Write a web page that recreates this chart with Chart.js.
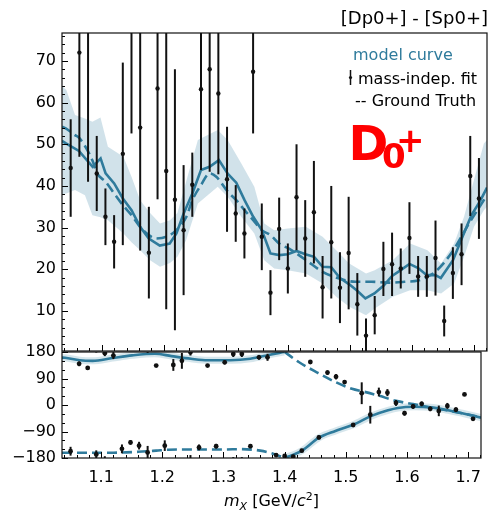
<!DOCTYPE html>
<html><head><meta charset="utf-8">
<script src="https://cdn.jsdelivr.net/npm/chart.js@4.4.1/dist/chart.umd.min.js"></script>
<style>
html,body{margin:0;padding:0;background:#fff;}
#wrap{position:relative;width:491px;height:511px;overflow:hidden;background:#fff;}
#wrap canvas{position:absolute;left:0;top:0;}
</style></head><body>
<div id="wrap"><canvas id="topPanel" width="491" height="511"></canvas><canvas id="phasePanel" width="491" height="511"></canvas></div>
<script>
// ---------------- data ----------------
const xTicks = [1.1, 1.2, 1.3, 1.4, 1.5, 1.6, 1.7];
const intensityTicks = [10, 20, 30, 40, 50, 60, 70];
const phaseTicks = [-180, -90, 0, 90, 180];

const binMass = [1.050,1.064,1.078,1.092,1.106,1.120,1.134,1.148,1.162,1.176,1.190,1.204,1.218,1.232,1.246,1.260,1.274,1.288,1.302,1.316,1.330,1.344,1.358,1.372,1.386,1.400,1.414,1.428,1.442,1.456,1.470,1.484,1.498,1.512,1.526,1.540,1.554,1.568,1.582,1.596,1.610,1.624,1.638,1.652,1.666,1.680,1.694,1.708];

const fitIntensity = [44.3,72,82,43,32.6,26.6,47.7,80,54,24,63.4,43.6,36.7,29.4,40.3,63.2,68,62.2,41.6,33.4,28.6,67.4,27.8,14.4,29.7,20.2,37.3,27.4,33.7,15.7,26.5,15.6,23.9,11.6,4.1,9.0,20.1,21.2,20.2,27.5,18.3,18.3,22.7,7.6,19.1,23.6,42.4,37.0];
const fitIntensityErr = [11.7,25,41,9,6.8,6.4,21.9,27.4,29.5,11,26.6,33.2,31.3,15.6,7.7,19.4,24.6,19.4,12.6,6.8,6,14.8,8,5.4,7.5,6,12.7,9.2,12.3,7.5,13.5,8.5,13.5,7.5,4.1,4.6,6.5,7.6,4.8,8.6,4.9,4.9,9,3.7,6.2,7.4,9.6,9.7];

const fitPhase = [-157,140,126,-168,176,168,-149,-127,-138,-161,134,-138,136,150,179,-144,134,-140,145,173,173,-140,162,162,-170,-173,-175,-155,146,-110,110,96,78,-68,40,-33,44,42,7,-28,-5,4,-13,-20,-3,-16,36,-47];
const fitPhaseErr = [15,8,5,14,10,12,15,8,13,22,3,18,20,27,11,10,5,8,7,10,10,7,8,12,6,5,6,6,6,7,8,9,6,6,37,30,15,12,10,8,8,8,8,18,10,8,5,5];

const modelMass = [1.036,1.0424,1.0633,1.0854,1.0982,1.1063,1.1201,1.1341,1.1481,1.1619,1.1759,1.1936,1.2096,1.2204,1.2321,1.2461,1.2600,1.2739,1.2889,1.3034,1.3169,1.3302,1.3442,1.3580,1.3720,1.3865,1.3998,1.4138,1.4283,1.4423,1.4560,1.4700,1.4840,1.4990,1.5123,1.5250,1.5395,1.5545,1.5680,1.5820,1.5960,1.6100,1.6240,1.6380,1.6465,1.6662,1.6820,1.6960,1.7100,1.7210];
const modelIntensity = [50.8,50.2,48.4,44.6,46.6,43.0,40.6,37.0,34.2,30.2,27.4,25.7,26.2,28.6,33.4,38.2,43.8,44.6,46.2,42.9,40.8,36.6,32.6,29.4,23.8,23.4,23.6,24.4,23.6,23.0,20.6,20.5,17.9,16.4,14.8,13.0,14.2,16.1,18.4,19.8,21.3,20.3,18.6,18.6,17.9,22.2,28.0,33.0,36.4,39.6];

const gtMass = [1.036,1.042,1.057,1.0633,1.0854,1.0918,1.1063,1.1201,1.1341,1.1481,1.1619,1.1759,1.1882,1.2043,1.2204,1.2365,1.2461,1.2600,1.2739,1.2847,1.3034,1.3169,1.3302,1.3442,1.3580,1.3720,1.3865,1.4026,1.4294,1.4560,1.4829,1.5090,1.5350,1.5620,1.5880,1.6100,1.6244,1.6384,1.6651,1.6920,1.7210];
const gtIntensity = [54.2,53.8,52.2,51.6,46.0,43.2,41.0,38.2,35.4,33.0,30.2,28.2,27.4,27.8,29.4,32.6,36.6,40.2,43.0,42.2,38.6,36.6,34.2,31.8,29.4,28.2,26.1,24.9,22.2,19.4,17.8,17.0,17.0,16.8,17.0,17.3,18.2,19.5,24.2,31.0,37.8];

const bandMass = [1.036,1.043,1.057,1.073,1.085,1.098,1.110,1.135,1.148,1.162,1.178,1.194,1.210,1.222,1.236,1.255,1.287,1.303,1.325,1.346,1.362,1.378,1.400,1.429,1.456,1.478,1.499,1.526,1.540,1.569,1.597,1.625,1.647,1.668,1.684,1.700,1.716,1.721];
const bandLow  = [38,38.2,39,37.8,33,32.5,31.8,28.6,26.5,24.6,22.2,20.6,21.5,23,27,35.8,39.8,37.4,32.6,28.6,22.2,20.2,19.8,19.0,16.6,13.4,11.0,9.0,10.6,13.4,15.0,15.0,14.2,16.6,23.0,30.2,34.2,35];
const bandHigh = [64,63,57,56.2,55.4,56.4,49.4,47,42.2,36.6,33.5,31,31.8,33.5,41,51,53.4,51,45.4,39.8,31,29.4,29.8,30.2,27.8,24.6,21.4,19.0,19.8,22.2,26.2,24.6,21.4,26.2,32.6,41.4,50.2,51];

const modelPhaseMassUpper = [1.036,1.041,1.065,1.086,1.1185,1.1506,1.188,1.215,1.247,1.274,1.311,1.344,1.376,1.399];
const modelPhaseUpper     = [161,160.5,152,150,159.5,168.5,174,166,157,152,152,157,171,180];
const modelPhaseMassLower = [1.399,1.413,1.429,1.456,1.483,1.512,1.542,1.569,1.585,1.612,1.638,1.665,1.692,1.721];
const modelPhaseLower     = [-180,-170,-154,-111,-88,-67,-37,-18,-10,-6,-8,-17,-29,-43];
const gtPhaseMassLower = [1.036,1.08,1.12,1.16,1.19,1.21,1.25,1.30,1.33,1.36,1.38,1.40];
const gtPhaseLower     = [-162,-162,-162,-159,-155,-152,-151,-151,-150,-155,-165,-180];
const gtPhaseMassUpper = [1.40,1.423,1.4525,1.484,1.51,1.53,1.555,1.58,1.61,1.635,1.665,1.692,1.721];
const gtPhaseUpper     = [180,146,111,77,55,45,31,15,3,-7,-18,-29,-42];

// ---------------- helpers ----------------
const X_MIN = 1.036, X_MAX = 1.721;
const TEAL = '#2f7b9c';
const FONT = '"DejaVu Sans", "Liberation Sans", sans-serif';
const toXY = (xs, ys) => xs.map((x, i) => ({x: x, y: ys[i]}));
const setTicks = list => scale => { scale.ticks = list.map(v => ({value: v})); };
const minus = v => (v < 0 ? '\u2212' + Math.abs(v) : String(v));

function minorValues(min, max, step, majors) {
  const out = [];
  for (let k = Math.ceil(min / step - 1e-9); k * step <= max + 1e-9; k++) {
    const v = +(k * step).toFixed(6);
    if (!majors.some(m => Math.abs(m - v) < 1e-6)) out.push(v);
  }
  return out;
}

// error bars drawn through the chart's scales, right before the point dataset
const errorBarPlugin = {
  id: 'errorBars',
  beforeDatasetDraw(chart, args) {
    const ds = chart.data.datasets[args.index];
    if (!ds.errors) return;
    const {ctx, chartArea: a} = chart;
    const xs = chart.scales.x, ys = chart.scales.y;
    ctx.save();
    ctx.beginPath();
    ctx.rect(a.left, a.top, a.right - a.left, a.bottom - a.top);
    ctx.clip();
    ctx.strokeStyle = '#111';
    ctx.lineWidth = 2;
    ds.data.forEach((p, i) => {
      const e = ds.errors[i];
      (ds.wrapShifts || [0]).forEach(s => {
        const px = xs.getPixelForValue(p.x);
        ctx.beginPath();
        ctx.moveTo(px, ys.getPixelForValue(p.y + s - e));
        ctx.lineTo(px, ys.getPixelForValue(p.y + s + e));
        ctx.stroke();
      });
    });
    ctx.restore();
  }
};

function frameTicks(chart, yMajors, yMinorStep, xMinorStep) {
  const {ctx, chartArea: a} = chart;
  const xs = chart.scales.x, ys = chart.scales.y;
  ctx.save();
  ctx.strokeStyle = '#000';
  ctx.lineWidth = 1;
  const tickX = (vals, len) => vals.forEach(v => {
    const px = Math.round(xs.getPixelForValue(v)) + 0.5;
    ctx.beginPath(); ctx.moveTo(px, a.bottom); ctx.lineTo(px, a.bottom - len); ctx.stroke();
  });
  const tickY = (vals, len) => vals.forEach(v => {
    const py = Math.round(ys.getPixelForValue(v)) + 0.5;
    ctx.beginPath(); ctx.moveTo(a.left, py); ctx.lineTo(a.left + len, py); ctx.stroke();
  });
  tickX(minorValues(xs.min, xs.max, xMinorStep, xTicks), 3);
  tickX(xTicks, 6);
  tickY(minorValues(ys.min, ys.max, yMinorStep, yMajors), 3);
  tickY(yMajors, 6);
  ctx.lineWidth = 1.2;
  ctx.strokeStyle = '#111';
  ctx.strokeRect(a.left, a.top, a.right - a.left, a.bottom - a.top);
  ctx.restore();
}

const tickFont = {family: FONT, size: 16};

// ---------------- top panel: intensity ----------------
new Chart(document.getElementById('topPanel'), {
  type: 'line',
  data: {datasets: [
    {label: 'mass-indep. fit', data: toXY(binMass, fitIntensity), errors: fitIntensityErr,
     showLine: false, pointRadius: 2.2, pointBackgroundColor: '#111', pointBorderWidth: 0, order: 0},
    {label: 'model curve', data: toXY(modelMass, modelIntensity), borderColor: TEAL, borderWidth: 2.6,
     pointRadius: 0, tension: 0, fill: false, order: 1},
    {label: 'Ground Truth', data: toXY(gtMass, gtIntensity), borderColor: TEAL, borderWidth: 2.6,
     borderDash: [10, 5], pointRadius: 0, tension: 0.35, cubicInterpolationMode: 'monotone', fill: false, order: 2},
    {label: 'band low', data: toXY(bandMass, bandLow), borderWidth: 0, borderColor: 'rgba(0,0,0,0)',
     pointRadius: 0, tension: 0, fill: false, order: 4},
    {label: 'band high', data: toXY(bandMass, bandHigh), borderWidth: 0, borderColor: 'rgba(0,0,0,0)',
     pointRadius: 0, tension: 0, fill: '-1', backgroundColor: 'rgba(70,140,170,0.25)', order: 3}
  ]},
  options: {
    responsive: false, animation: false, devicePixelRatio: 1,
    layout: {padding: {left: 0, right: 3, top: 33, bottom: 160}},
    plugins: {legend: {display: false}, tooltip: {enabled: false}},
    scales: {
      x: {type: 'linear', min: X_MIN, max: X_MAX, display: false},
      y: {type: 'linear', min: 0.4, max: 76.7,
          afterBuildTicks: setTicks(intensityTicks), afterFit: s => { s.width = 62; },
          grid: {display: false, drawTicks: false}, border: {display: false},
          ticks: {padding: 6, font: tickFont, color: '#000', autoSkip: false}}
    }
  },
  plugins: [errorBarPlugin, {
    id: 'topDecor',
    afterDraw(chart) {
      frameTicks(chart, intensityTicks, 2, 0.02);
      const ctx = chart.ctx;
      ctx.save();
      ctx.textBaseline = 'alphabetic';
      // title
      ctx.font = '18px ' + FONT; ctx.fillStyle = '#000'; ctx.textAlign = 'right';
      ctx.fillText('[Dp0+] - [Sp0+]', 488, 23.5);
      // legend
      ctx.textAlign = 'left'; ctx.font = '16px ' + FONT;
      ctx.fillStyle = TEAL; ctx.fillText('model curve', 353, 60);
      ctx.fillStyle = '#000'; ctx.fillText('mass-indep. fit', 358, 83.5);
      ctx.fillText('-- Ground Truth', 355, 106);
      ctx.strokeStyle = '#111'; ctx.lineWidth = 1.5;
      ctx.beginPath(); ctx.moveTo(350.5, 70); ctx.lineTo(350.5, 85); ctx.stroke();
      ctx.beginPath(); ctx.arc(350.5, 77.5, 1.6, 0, Math.PI * 2); ctx.fillStyle = '#111'; ctx.fill();
      // D_0^+
      ctx.fillStyle = '#ff0000';
      ctx.font = 'bold 48px ' + FONT; ctx.fillText('D', 348.5, 160);
      ctx.font = 'bold 34px ' + FONT; ctx.fillText('0', 382, 168);
      ctx.fillText('+', 396, 152);
      ctx.restore();
    }
  }]
});

// ---------------- bottom panel: phase ----------------
new Chart(document.getElementById('phasePanel'), {
  type: 'line',
  data: {datasets: [
    {label: 'phase fit', data: toXY(binMass, fitPhase), errors: fitPhaseErr, wrapShifts: [-360, 0, 360],
     showLine: false, pointRadius: 2.4, pointBackgroundColor: '#111', pointBorderWidth: 0, order: 0},
    {label: 'model upper', data: toXY(modelPhaseMassUpper, modelPhaseUpper), borderColor: TEAL, borderWidth: 2.6,
     pointRadius: 0, tension: 0.4, cubicInterpolationMode: 'monotone', fill: false, order: 1},
    {label: 'model lower', data: toXY(modelPhaseMassLower, modelPhaseLower), borderColor: TEAL, borderWidth: 2.6,
     pointRadius: 0, tension: 0.4, cubicInterpolationMode: 'monotone', fill: false, order: 1},
    {label: 'model upper band', data: toXY(modelPhaseMassUpper, modelPhaseUpper), borderColor: 'rgba(70,140,170,0.22)', borderWidth: 7,
     pointRadius: 0, tension: 0.4, cubicInterpolationMode: 'monotone', fill: false, order: 3},
    {label: 'model lower band', data: toXY(modelPhaseMassLower, modelPhaseLower), borderColor: 'rgba(70,140,170,0.22)', borderWidth: 7,
     pointRadius: 0, tension: 0.4, cubicInterpolationMode: 'monotone', fill: false, order: 3},
    {label: 'gt lower', data: toXY(gtPhaseMassLower, gtPhaseLower), borderColor: TEAL, borderWidth: 2.6, borderDash: [10, 5],
     pointRadius: 0, tension: 0.4, cubicInterpolationMode: 'monotone', fill: false, order: 2},
    {label: 'gt upper', data: toXY(gtPhaseMassUpper, gtPhaseUpper), borderColor: TEAL, borderWidth: 2.6, borderDash: [10, 5],
     pointRadius: 0, tension: 0.4, cubicInterpolationMode: 'monotone', fill: false, order: 2}
  ]},
  options: {
    responsive: false, animation: false, devicePixelRatio: 1,
    layout: {padding: {left: 0, right: 3, top: 352, bottom: 0}},
    plugins: {legend: {display: false}, tooltip: {enabled: false}},
    scales: {
      x: {type: 'linear', min: X_MIN, max: X_MAX,
          afterBuildTicks: setTicks(xTicks), afterFit: s => { s.height = 53; },
          grid: {display: false, drawTicks: false}, border: {display: false},
          ticks: {padding: 10, font: tickFont, color: '#000', autoSkip: false, maxRotation: 0,
                  callback: v => Number(v).toFixed(1)}},
      y: {type: 'linear', min: -180, max: 180,
          afterBuildTicks: setTicks(phaseTicks), afterFit: s => { s.width = 62; },
          grid: {display: false, drawTicks: false}, border: {display: false},
          ticks: {padding: 6, font: tickFont, color: '#000', autoSkip: false, callback: v => minus(v)}}
    }
  },
  plugins: [errorBarPlugin, {
    id: 'phaseDecor',
    afterDraw(chart) {
      frameTicks(chart, phaseTicks, 30, 0.02);
      const ctx = chart.ctx;
      ctx.save();
      ctx.fillStyle = '#000'; ctx.textBaseline = 'alphabetic'; ctx.textAlign = 'left';
      const pieces = [
        {t: 'm', f: 'italic 16px ' + FONT, dy: 0},
        {t: 'X', f: 'italic 11px ' + FONT, dy: 3.5},
        {t: ' [GeV/', f: '16px ' + FONT, dy: 0},
        {t: 'c', f: 'italic 16px ' + FONT, dy: 0},
        {t: '2', f: '11px ' + FONT, dy: -6.5},
        {t: ']', f: '16px ' + FONT, dy: 0}
      ];
      let total = 0;
      pieces.forEach(p => { ctx.font = p.f; p.w = ctx.measureText(p.t).width; total += p.w; });
      const a = chart.chartArea;
      let x = (a.left + a.right) / 2 - total / 2;
      pieces.forEach(p => { ctx.font = p.f; ctx.fillText(p.t, x, 506 + p.dy); x += p.w; });
      ctx.restore();
    }
  }]
});
</script>
</body></html>
